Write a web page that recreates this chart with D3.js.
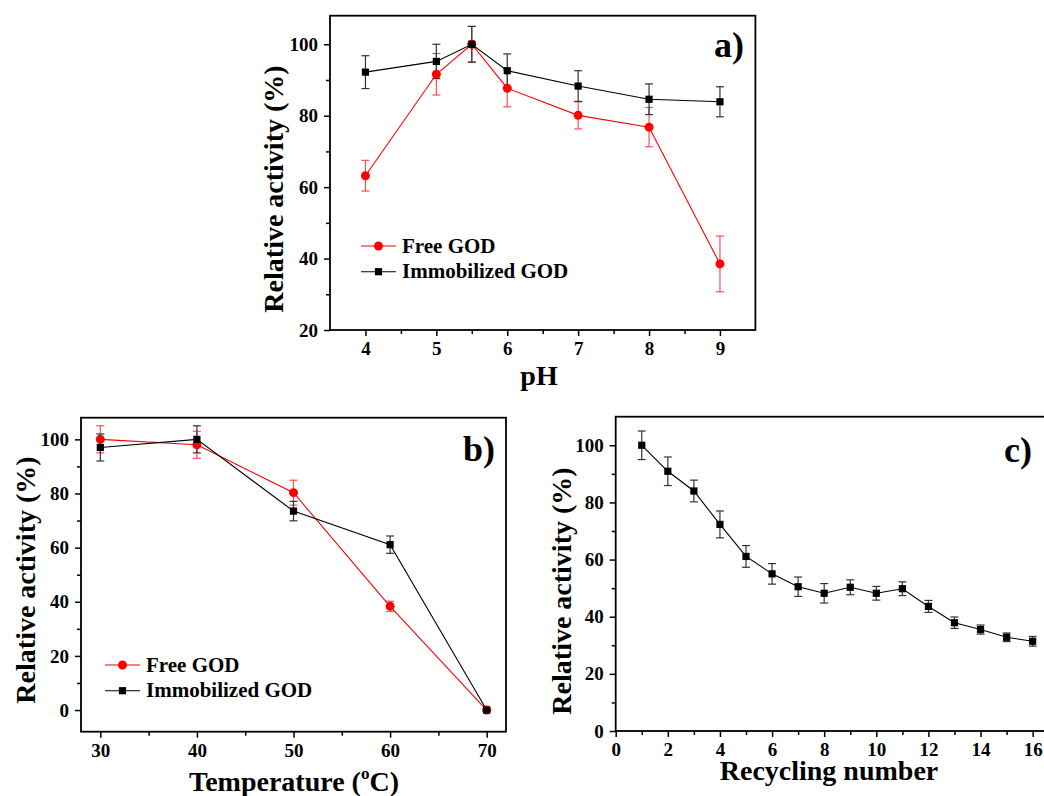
<!DOCTYPE html>
<html><head><meta charset="utf-8">
<script src="https://cdn.jsdelivr.net/npm/d3@7"></script>
<style>
body{margin:0;background:#fff}
svg{display:block}
text{font-family:"Liberation Serif","Times New Roman",serif;font-weight:bold;fill:#000}
</style>
</head><body><svg id="chart" width="1044" height="796"></svg>
<script>
// ---------- data ----------
const phValues = [4, 5, 5.5, 6, 7, 8, 9];
const phFree = [63.2, 91.6, 100, 87.7, 80.1, 76.8, 38.5];
const phFreeErr = [4.3, 5.8, 5, 5.2, 3.8, 5.5, 7.8];
const phImmob = [92.2, 95.2, 100, 92.6, 88.3, 84.6, 83.9];
const phImmobErr = [4.6, 4.8, 5, 4.7, 4.3, 4.3, 4.2];
const phTicks = [4, 5, 6, 7, 8, 9];
const phMinorTicks = [4.5, 5.5, 6.5, 7.5, 8.5];
const phYTicks = [20, 40, 60, 80, 100];
const phYMinor = [30, 50, 70, 90];

const tempValues = [30, 40, 50, 60, 70];
const tempFree = [100, 98, 80.3, 38.3, 0];
const tempFreeErr = [5, 5, 4.6, 1.9, 0.5];
const tempImmob = [97, 100, 73.5, 61.1, 0];
const tempImmobErr = [5, 5, 3.6, 3.2, 0.5];
const tempTicks = [30, 40, 50, 60, 70];
const tempMinorTicks = [35, 45, 55, 65];
const tempYTicks = [0, 20, 40, 60, 80, 100];
const tempYMinor = [10, 30, 50, 70, 90];

const cycleValues = [1, 2, 3, 4, 5, 6, 7, 8, 9, 10, 11, 12, 13, 14, 15, 16];
const cycleActivity = [100, 90.9, 84.0, 72.3, 61.1, 55.0, 50.5, 48.2, 50.3, 48.2, 49.8, 43.6, 37.9, 35.5, 32.8, 31.4];
const cycleErr = [5, 5, 3.8, 4.7, 3.8, 3.6, 3.4, 3.4, 2.6, 2.4, 2.4, 2.1, 2.0, 1.6, 1.5, 1.7];
const cycleTicks = [0, 2, 4, 6, 8, 10, 12, 14, 16];
const cycleMinorTicks = [1, 3, 5, 7, 9, 11, 13, 15];
const cycleYTicks = [0, 20, 40, 60, 80, 100];
const cycleYMinor = [10, 30, 50, 70, 90];

const seriesNames = ["Free GOD", "Immobilized GOD"];
const RED = "#ff0000", BLACK = "#000000";

// ---------- drawing ----------
const svg = d3.select("#chart");

function panel(o) {
  const g = svg.append("g");
  const x = d3.scaleLinear().domain(o.xDomain).range([o.left, o.right]);
  const y = d3.scaleLinear().domain(o.yDomain).range([o.bottom, o.top]);

  // axes
  const fmt = d3.format("d");
  const ax = g.append("g").attr("transform", `translate(0,${o.bottom})`)
    .call(d3.axisBottom(x).tickValues(o.xTicks).tickSize(6).tickSizeOuter(0).tickPadding(6).tickFormat(fmt));
  const axm = g.append("g").attr("transform", `translate(0,${o.bottom})`)
    .call(d3.axisBottom(x).tickValues(o.xMinor).tickSize(4).tickSizeOuter(0).tickFormat(""));
  const ay = g.append("g").attr("transform", `translate(${o.left},0)`)
    .call(d3.axisLeft(y).tickValues(o.yTicks).tickSize(6).tickSizeOuter(0).tickPadding(6).tickFormat(fmt));
  const aym = g.append("g").attr("transform", `translate(${o.left},0)`)
    .call(d3.axisLeft(y).tickValues(o.yMinor).tickSize(4).tickSizeOuter(0).tickFormat(""));
  [ax, axm, ay, aym].forEach(a => {
    a.select(".domain").remove();
    a.selectAll("line").attr("stroke", "#000").attr("stroke-width", 1.5);
    a.selectAll("text").attr("font-size", 19).attr("fill", "#000")
      .style("font-family", '"Liberation Serif","Times New Roman",serif').style("font-weight", "bold");
  });

  // frame
  g.append("rect").attr("x", o.left).attr("y", o.top)
    .attr("width", o.right - o.left).attr("height", o.bottom - o.top)
    .attr("fill", "none").attr("stroke", "#000").attr("stroke-width", 1.8);

  // error bars
  o.series.forEach(s => {
    const eg = g.append("g").attr("stroke", s.errColor).attr("stroke-width", 1.2).attr("fill", "none");
    s.xs.forEach((xv, i) => {
      const cx = x(xv), y1 = y(s.ys[i] + s.err[i]), y2 = y(s.ys[i] - s.err[i]);
      eg.append("line").attr("x1", cx).attr("x2", cx).attr("y1", y1).attr("y2", y2);
      eg.append("line").attr("x1", cx - 4).attr("x2", cx + 4).attr("y1", y1).attr("y2", y1);
      eg.append("line").attr("x1", cx - 4).attr("x2", cx + 4).attr("y1", y2).attr("y2", y2);
    });
  });
  // lines + markers
  o.series.forEach(s => {
    const line = d3.line().x((d, i) => x(s.xs[i])).y(d => y(d));
    g.append("path").datum(s.ys).attr("d", line).attr("fill", "none")
      .attr("stroke", s.color).attr("stroke-width", 1.1);
    s.ys.forEach((v, i) => marker(g, s.shape, x(s.xs[i]), y(v), s.color));
  });

  // legend
  if (o.legend) {
    o.series.forEach((s, i) => {
      const ly = o.legend.y + i * o.legend.dy;
      g.append("line").attr("x1", o.legend.x).attr("x2", o.legend.x + 35)
        .attr("y1", ly).attr("y2", ly).attr("stroke", s.color).attr("stroke-width", 1.1);
      marker(g, s.shape, o.legend.x + 17.5, ly, s.color);
      g.append("text").attr("x", o.legend.x + 41).attr("y", ly + 6.5)
        .attr("font-size", 21).text(s.name);
    });
  }

  // axis titles
  const xt = g.append("text").attr("x", o.xTitle.x).attr("y", o.xTitle.y)
    .attr("text-anchor", "middle").attr("font-size", 28);
  o.xTitle.parts.forEach(p => {
    const t = xt.append("tspan").text(p.t);
    if (p.sup) t.attr("font-size", 17).attr("baseline-shift", "70%");
  });
  g.append("text").attr("transform", `translate(${o.yTitle.x},${o.yTitle.y}) rotate(-90)`)
    .attr("text-anchor", "middle").attr("font-size", 28).text("Relative activity (%)");

  // panel label
  g.append("text").attr("x", o.label.x).attr("y", o.label.y).attr("text-anchor", "end")
    .attr("font-size", 36).text(o.label.t);
}

function marker(g, shape, cx, cy, color) {
  if (shape === "circle") {
    g.append("circle").attr("cx", cx).attr("cy", cy).attr("r", 4.5).attr("fill", color);
  } else {
    g.append("rect").attr("x", cx - 3.6).attr("y", cy - 3.6).attr("width", 7.2).attr("height", 7.2).attr("fill", color);
  }
}

// Panel a
panel({
  left: 330, right: 755.4, top: 15.7, bottom: 330,
  xDomain: [3.5, 9.5], yDomain: [20, 108],
  xTicks: phTicks, xMinor: phMinorTicks, yTicks: phYTicks, yMinor: phYMinor,
  series: [
    {name: seriesNames[0], xs: phValues, ys: phFree, err: phFreeErr, color: RED, errColor: "#ff5050", shape: "circle"},
    {name: seriesNames[1], xs: phValues, ys: phImmob, err: phImmobErr, color: BLACK, errColor: "#333", shape: "square"}
  ],
  legend: {x: 361, y: 246, dy: 25.7},
  xTitle: {x: 539, y: 385, parts: [{t: "pH"}]},
  yTitle: {x: 283, y: 189},
  label: {x: 744, y: 57, t: "a)"}
});

// Panel b
panel({
  left: 81, right: 506, top: 417.7, bottom: 731.7,
  xDomain: [28, 72], yDomain: [-8, 108],
  xTicks: tempTicks, xMinor: tempMinorTicks, yTicks: tempYTicks, yMinor: tempYMinor,
  series: [
    {name: seriesNames[0], xs: tempValues, ys: tempFree, err: tempFreeErr, color: RED, errColor: "#ff5050", shape: "circle"},
    {name: seriesNames[1], xs: tempValues, ys: tempImmob, err: tempImmobErr, color: BLACK, errColor: "#333", shape: "square"}
  ],
  legend: {x: 105, y: 665, dy: 25.7},
  xTitle: {x: 294, y: 791, parts: [{t: "Temperature ("}, {t: "o", sup: true}, {t: "C)"}]},
  yTitle: {x: 35, y: 580},
  label: {x: 495, y: 461, t: "b)"}
});

// Panel c
panel({
  left: 615.7, right: 1045.7, top: 416.7, bottom: 731,
  xDomain: [0, 16.5], yDomain: [0, 110],
  xTicks: cycleTicks, xMinor: cycleMinorTicks, yTicks: cycleYTicks, yMinor: cycleYMinor,
  series: [
    {name: "Immobilized GOD", xs: cycleValues, ys: cycleActivity, err: cycleErr, color: BLACK, errColor: "#333", shape: "square"}
  ],
  legend: null,
  xTitle: {x: 829, y: 780, parts: [{t: "Recycling number"}]},
  yTitle: {x: 571, y: 591},
  label: {x: 1032, y: 462, t: "c)"}
});
</script>
</body></html>
